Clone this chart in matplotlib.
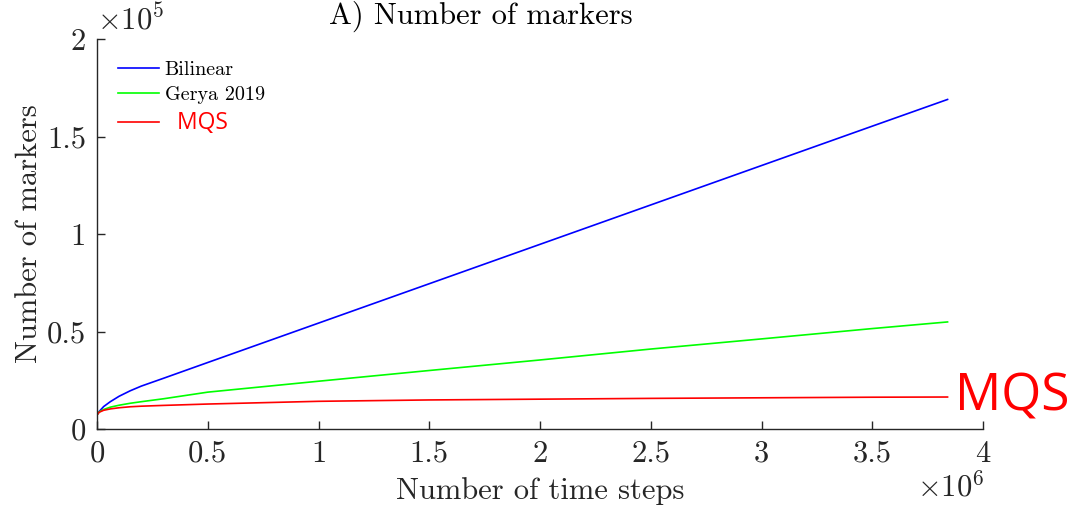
import matplotlib
matplotlib.use("Agg")
import matplotlib.pyplot as plt
from matplotlib.ticker import FuncFormatter

# ---- data (time steps, number of markers) ----
steps = [0, 0.01e6, 0.03e6, 0.06e6, 0.1e6, 0.15e6, 0.2e6, 0.3e6, 0.5e6,
         1.0e6, 1.5e6, 2.0e6, 2.5e6, 3.0e6, 3.5e6, 3.84e6]
bilinear = [0.072e5, 0.090e5, 0.115e5, 0.140e5, 0.168e5, 0.196e5, 0.220e5, 0.260e5, 0.341e5,
            0.543e5, 0.745e5, 0.947e5, 1.149e5, 1.351e5, 1.553e5, 1.690e5]
gerya = [0.072e5, 0.088e5, 0.100e5, 0.112e5, 0.122e5, 0.132e5, 0.140e5, 0.155e5, 0.189e5,
         0.245e5, 0.300e5, 0.354e5, 0.410e5, 0.462e5, 0.515e5, 0.549e5]
mqs = [0.072e5, 0.086e5, 0.096e5, 0.103e5, 0.109e5, 0.114e5, 0.117e5, 0.121e5, 0.128e5,
       0.142e5, 0.149e5, 0.153e5, 0.157e5, 0.160e5, 0.163e5, 0.164e5]
xticks = [0, 0.5e6, 1e6, 1.5e6, 2e6, 2.5e6, 3e6, 3.5e6, 4e6]
yticks = [0, 0.5e5, 1e5, 1.5e5, 2e5]

plt.rcParams['font.family'] = ['cmr10', 'DejaVu Serif']
plt.rcParams['mathtext.fontset'] = 'cm'
plt.rcParams['axes.unicode_minus'] = False

axcol = '#262626'
fs = 22
fig = plt.figure(figsize=(10.77, 5.07), dpi=100)
ax = fig.add_axes([97/1077, 1-429/507, (983-97)/1077, (429-39)/507])

ax.plot(steps, bilinear, color='#0000ff', lw=1.2, label='Bilinear')
ax.plot(steps, gerya, color='#00ff00', lw=1.2, label='Gerya 2019')
ax.plot(steps, mqs, color='#ff0000', lw=1.2, label='  MQS')

ax.set_xlim(0, 4e6)
ax.set_ylim(0, 2e5)
ax.set_xticks(xticks)
ax.set_yticks(yticks)
ax.xaxis.set_major_formatter(FuncFormatter(lambda v, p: '%g' % (v/1e6)))
ax.yaxis.set_major_formatter(FuncFormatter(lambda v, p: '%g' % (v/1e5)))
for s in ['top', 'right']:
    ax.spines[s].set_visible(False)
for s in ['left', 'bottom']:
    ax.spines[s].set_color(axcol)
    ax.spines[s].set_linewidth(1.0)
ax.tick_params(direction='in', length=6, width=1.0, colors=axcol, labelsize=fs, pad=8)

ax.set_xlabel('Number of time steps', fontsize=fs, color=axcol, labelpad=7)
ax.set_ylabel('Number of markers', fontsize=fs, color=axcol, labelpad=3)

fig.text(481/1077, 1-16/507, 'A) Number of markers', fontsize=fs, ha='center', va='center', color='black')
ax.text(0, 1.01, r'$\times10^5$', transform=ax.transAxes, fontsize=fs, color=axcol, ha='left', va='bottom')
fig.text(951/1077, 1-487/507, r'$\times10^6$', fontsize=fs, color=axcol, ha='center', va='center')

leg = ax.legend(loc='upper left', bbox_to_anchor=(0.015, 0.965), frameon=False, fontsize=14.5,
                handlelength=2.0, handletextpad=0.3, labelspacing=0.35, borderaxespad=0)
texts = leg.get_texts()
texts[2].set_color('#ff0000')
texts[2].set_fontfamily('Open Sans')
texts[2].set_fontsize(16.5)

ax.text(3.875e6, 0.164e5, 'MQS', color='#ff0000', fontsize=37, family='Open Sans',
        ha='left', va='center', clip_on=False)

fig.savefig('out.png', dpi=100)
